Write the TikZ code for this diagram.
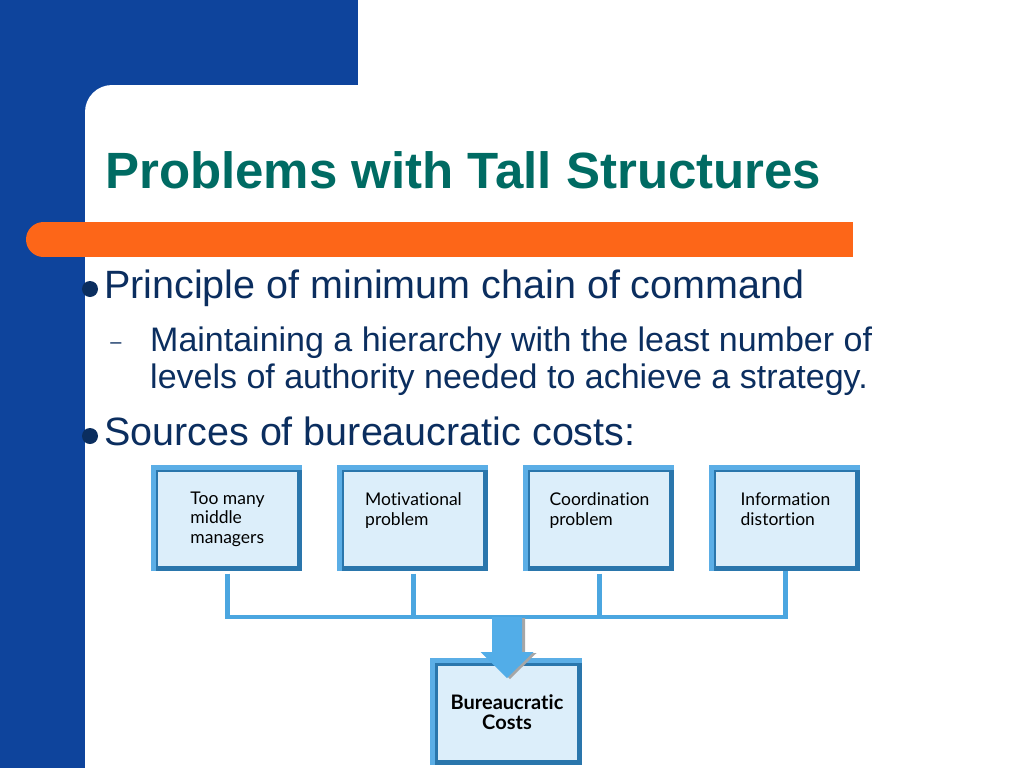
\documentclass[tikz,border=0pt]{standalone}
\usepackage{fontspec}
\setmainfont{Liberation Sans}
\newfontfamily\boxfont[Ligatures=NoCommon]{Lato}
\usepackage{xcolor}
\usetikzlibrary{positioning,calc}

\definecolor{slideblue}{HTML}{0E449C}
\definecolor{barorange}{HTML}{FD6618}
\definecolor{titleteal}{HTML}{006B63}
\definecolor{navy}{HTML}{0B2E5F}
\definecolor{boxfill}{HTML}{DCEEFA}
\definecolor{boxlight}{HTML}{5BAEE6}
\definecolor{boxdark}{HTML}{2A76AC}
\definecolor{linkblue}{HTML}{4BA6E0}
\definecolor{arrowfill}{HTML}{52ADE8}

\begin{document}
\begin{tikzpicture}[
    x=1pt, y=-1pt,
    node distance=37pt,
    costbox/.style={draw=boxdark, line width=5pt, fill=boxfill, minimum width=144pt, minimum height=99pt, inner sep=0pt, align=left, text=black, font=\boxfont\fontsize{17.5}{19.5}\selectfont},
    bevel/.style={boxlight, line width=5pt},
    link/.style={linkblue, line width=4.5pt},
    bullettext/.style={anchor=base west, inner sep=0pt, text=navy},
    dot/.style={circle, fill=navy, inner sep=0pt, minimum size=16pt}
]
\useasboundingbox (0,0) rectangle (1024,768);

% slide frame
\fill[slideblue] (0,0) rectangle (358,85);
\fill[slideblue] (0,0) rectangle (85,768);
\fill[slideblue] (85,85) rectangle (112,112);
\fill[white] (112,112) circle (27pt);
\fill[barorange] (43.5,222) rectangle (853,257);
\fill[barorange] (43.5,239.5) circle (17.5pt);

% title and bullets
\node[anchor=base west, inner sep=0pt, text=titleteal, font=\bfseries\fontsize{51}{60}\selectfont] (title) at (105,188) {Problems with Tall Structures};

\node[dot] (dot1) at (90,289) {};
\node[bullettext, font=\fontsize{39.5}{46}\selectfont] (pt1) at (104,298) {Principle of minimum chain of command};
\node[anchor=base, inner sep=0pt, text=navy, font=\fontsize{20}{24}\selectfont] (dash1) at (116,348) {--};
\node[bullettext, font=\fontsize{34}{37}\selectfont, align=left] (pt1a) at (150,388) {Maintaining a hierarchy with the least number of\\levels of authority needed to achieve a strategy.};
\node[dot] (dot2) at (90,436) {};
\node[bullettext, font=\fontsize{39.5}{46}\selectfont] (pt2) at (104,445) {Sources of bureaucratic costs:};

% sources
\node[costbox] (b1) at (227.5,519) {Too many\\middle\\managers};
\node[costbox, right=of b1] (b2) {Motivational\\problem\\\mbox{}};
\node[costbox, right=of b2] (b3) {Coordination\\problem\\\mbox{}};
\node[costbox, right=of b3] (b4) {Information\\distortion\\\mbox{}};

% result
\node[costbox, align=center, font=\boxfont\bfseries\fontsize{20}{20}\selectfont] (cost) at (507,712.5) {Bureaucratic\\Costs};

\foreach \b in {b1,b2,b3,b4,cost}
    \draw[bevel] (\b.south west) -- (\b.north west) -- (\b.north east);

% connectors
\coordinate (bus) at (0,617);
\draw[link, shorten <=2.5pt] (b1.south) -- (b1.south |- bus) -- (b4.south |- bus) -- (b4.south);
\foreach \b in {b2,b3}
    \draw[link, shorten <=2.5pt] (\b.south) -- (\b.south |- bus);

% block arrow
\coordinate (arrtop) at (cost.north |- bus);
\fill[gray!70] ($(arrtop)+(-12,1)$) -- ++(30,0) -- ++(0,35) -- ++(11.5,0) -- ++(-26.5,26) -- ++(-26.5,-26) -- ++(11.5,0) -- cycle;
\fill[arrowfill] ($(arrtop)+(-15,0)$) -- ++(30,0) -- ++(0,35) -- ++(11.5,0) -- ++(-26.5,26) -- ++(-26.5,-26) -- ++(11.5,0) -- cycle;

\end{tikzpicture}
\end{document}
